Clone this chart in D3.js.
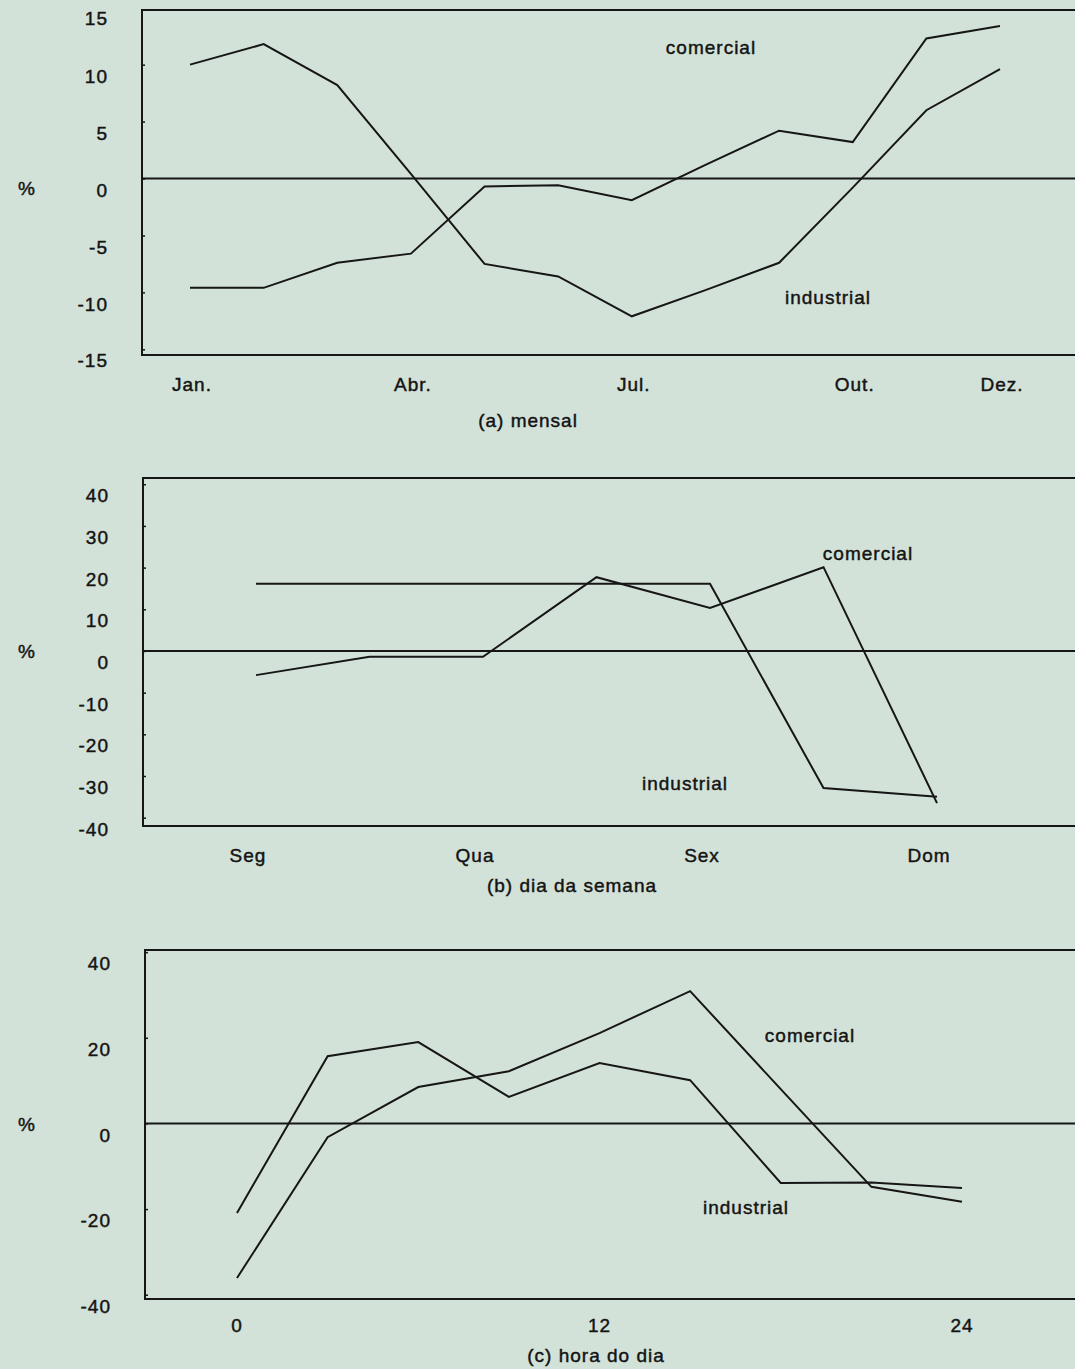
<!DOCTYPE html>
<html lang="pt">
<head>
<meta charset="utf-8">
<title>Variação do custo de interrupção</title>
<script src="https://cdn.jsdelivr.net/npm/d3@7/dist/d3.min.js"></script>
<style>
  html, body { margin: 0; padding: 0; background: #d3e2d8; }
  svg { display: block; }
  text { font-family: "Liberation Sans", Arial, sans-serif; fill: #141414; letter-spacing: 1px;
         stroke: #141414; stroke-width: 0.45px; }
</style>
</head>
<body>
<svg id="chart" width="1075" height="1369"></svg>
<script>
// (a) variação mensal
const meses = ["Jan.", "Fev.", "Mar.", "Abr.", "Mai.", "Jun.", "Jul.", "Ago.", "Set.", "Out.", "Nov.", "Dez."];
const mesesRotulados = ["Jan.", "Abr.", "Jul.", "Out.", "Dez."];
const mensalComercial = [-9.6, -9.6, -7.4, -6.6, -0.7, -0.6, -1.9, 1.2, 4.2, 3.2, 12.3, 13.4];
const mensalIndustrial = [10.0, 11.8, 8.2, 0.4, -7.5, -8.6, -12.1, -9.8, -7.4, -0.8, 6.0, 9.6];
const mensalTicks = [15, 10, 5, 0, -5, -10, -15];

// (b) dia da semana
const dias = ["Seg", "Ter", "Qua", "Qui", "Sex", "Sáb", "Dom"];
const diasRotulados = ["Seg", "Qua", "Sex", "Dom"];
const semanaComercial = [-5.8, -1.4, -1.4, 17.7, 10.3, 20.1, -36.5];
const semanaIndustrial = [16.1, 16.1, 16.1, 16.1, 16.1, -32.9, -35.0];
const semanaTicks = [40, 30, 20, 10, 0, -10, -20, -30, -40];

// (c) hora do dia
const horas = [0, 3, 6, 9, 12, 15, 18, 21, 24];
const horasRotuladas = [0, 12, 24];
const horaComercial = [-36.1, -3.2, 8.5, 12.2, 21.1, 30.9, 8.0, -14.8, -18.3];
const horaIndustrial = [-20.9, 15.7, 19.0, 6.2, 14.1, 10.1, -13.9, -13.8, -15.1];
const horaTicks = [40, 20, 0, -20, -40];

const svg = d3.select("#chart");
const ink = "#161616";
const fmt = v => String(v); // plain hyphen for negatives

const paineis = [
  {
    legenda: "(a) mensal", legendaX: 528, legendaY: 420,
    left: 142, top: 10, bottom: 355, yDomain: [-15.5, 14.8],
    ticks: mensalTicks, pctY: 188,
    x: d3.scalePoint().domain(meses).range([190, 1000]),
    cats: meses, rotulos: mesesRotulados, rotuloDx: 2, rotuloY: 384,
    series: [mensalComercial, mensalIndustrial],
    nomes: [{ t: "comercial", x: 711, y: 47 }, { t: "industrial", x: 828, y: 297 }]
  },
  {
    legenda: "(b) dia da semana", legendaX: 572, legendaY: 885,
    left: 143, top: 478, bottom: 826, yDomain: [-42, 41.5],
    ticks: semanaTicks, pctY: 651,
    x: d3.scalePoint().domain(dias).range([256, 937]),
    cats: dias, rotulos: diasRotulados, rotuloDx: -8, rotuloY: 855,
    series: [semanaComercial, semanaIndustrial],
    nomes: [{ t: "comercial", x: 868, y: 553 }, { t: "industrial", x: 685, y: 783 }]
  },
  {
    legenda: "(c) hora do dia", legendaX: 596, legendaY: 1355,
    left: 145, top: 950, bottom: 1299, yDomain: [-41, 40.5],
    ticks: horaTicks, pctY: 1124,
    x: d3.scaleLinear().domain([0, 24]).range([237, 962]),
    cats: horas, rotulos: horasRotuladas, rotuloDx: 0, rotuloY: 1325,
    series: [horaComercial, horaIndustrial],
    nomes: [{ t: "comercial", x: 810, y: 1035 }, { t: "industrial", x: 746, y: 1207 }]
  }
];

const right = 1090; // the frame runs past the page edge

paineis.forEach(p => {
  const g = svg.append("g");
  const y = d3.scaleLinear().domain(p.yDomain).range([p.bottom, p.top]);

  // frame
  g.append("rect")
    .attr("x", p.left).attr("y", p.top)
    .attr("width", right - p.left).attr("height", p.bottom - p.top)
    .attr("fill", "none").attr("stroke", ink).attr("stroke-width", 2);

  // zero line
  g.append("line")
    .attr("x1", p.left).attr("x2", right)
    .attr("y1", y(0)).attr("y2", y(0))
    .attr("stroke", ink).attr("stroke-width", 2);

  // y axis: small inward ticks, labels set a little below each tick
  const eixo = g.append("g")
    .attr("transform", `translate(${p.left},0)`)
    .call(d3.axisLeft(y).tickValues(p.ticks.filter(v => v > p.yDomain[0] && v < p.yDomain[1]))
      .tickSize(-3).tickPadding(34).tickFormat(fmt));
  eixo.select(".domain").remove();
  eixo.selectAll(".tick line").attr("stroke", ink).attr("stroke-width", 1.5);
  eixo.selectAll(".tick text")
    .attr("font-size", 19).attr("fill", ink)
    .attr("dy", "0.35em").attr("y", 11)
    .style("font-family", "'Liberation Sans', Arial, sans-serif");
  // labels at the domain limits that have no tick drawn
  p.ticks.filter(v => v <= p.yDomain[0] || v >= p.yDomain[1]).forEach(v => {
    g.append("text")
      .attr("x", p.left - 34).attr("y", y(v) + 11)
      .attr("dy", "0.35em").attr("text-anchor", "end")
      .attr("font-size", 19).text(fmt(v));
  });

  g.append("text")
    .attr("x", 18).attr("y", p.pctY).attr("dy", "0.35em")
    .attr("font-size", 19).text("%");

  // x labels
  g.selectAll("text.xl").data(p.rotulos).join("text")
    .attr("class", "xl")
    .attr("x", d => p.x(d) + p.rotuloDx).attr("y", p.rotuloY)
    .attr("dy", "0.35em").attr("text-anchor", "middle")
    .attr("font-size", 19).text(d => d);

  // series
  const linha = d3.line()
    .x((d, i) => p.x(p.cats[i]))
    .y(d => y(d));
  p.series.forEach(s => {
    g.append("path")
      .datum(s)
      .attr("d", linha)
      .attr("fill", "none").attr("stroke", ink)
      .attr("stroke-width", 2).attr("stroke-linejoin", "miter");
  });

  // series names
  p.nomes.forEach(n => {
    g.append("text")
      .attr("x", n.x).attr("y", n.y).attr("dy", "0.35em")
      .attr("text-anchor", "middle").attr("font-size", 19).text(n.t);
  });

  // caption
  g.append("text")
    .attr("x", p.legendaX).attr("y", p.legendaY).attr("dy", "0.35em")
    .attr("text-anchor", "middle").attr("font-size", 19).text(p.legenda);
});
</script>
</body>
</html>
